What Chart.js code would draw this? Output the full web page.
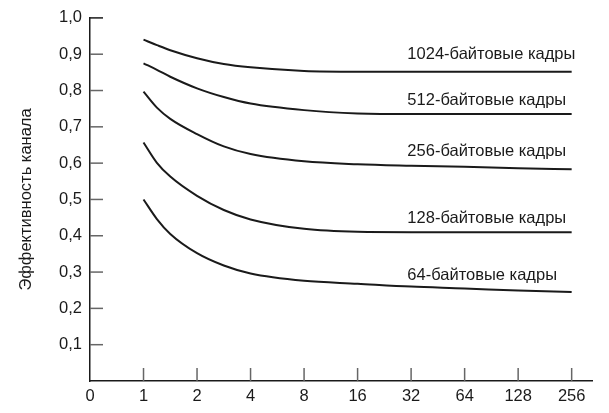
<!DOCTYPE html>
<html>
<head>
<meta charset="utf-8">
<script src="https://cdn.jsdelivr.net/npm/chart.js@4.4.1/dist/chart.umd.min.js"></script>
<style>
  html, body { margin: 0; padding: 0; background: #fff; }
  #wrap { width: 609px; height: 413px; }
</style>
</head>
<body>
<div id="wrap"><canvas id="chart"></canvas></div>
<script>
// ── Data ─────────────────────────────────────────────
const X_LABELS = ['0', '1', '2', '4', '8', '16', '32', '64', '128', '256'];
const TICK_POS = [1, 2, 3, 4, 5, 6, 7, 8, 9];                        // tick index of 1..256
const X_POS = [1, 1.25, 1.5, 2, 2.5, 3, 4, 5, 6, 7, 8, 9];            // where the curves were read
const Y_TICKS = [0.1, 0.2, 0.3, 0.4, 0.5, 0.6, 0.7, 0.8, 0.9, 1.0];

const EFF_1024 = [0.940, 0.925, 0.911, 0.889, 0.873, 0.864, 0.854, 0.852, 0.852, 0.852, 0.852, 0.852];
const EFF_512  = [0.875, 0.857, 0.838, 0.806, 0.782, 0.764, 0.746, 0.737, 0.735, 0.735, 0.735, 0.735];
const EFF_256  = [0.797, 0.753, 0.722, 0.680, 0.646, 0.625, 0.605, 0.597, 0.593, 0.590, 0.586, 0.583];
const EFF_128  = [0.657, 0.601, 0.563, 0.510, 0.471, 0.445, 0.419, 0.411, 0.410, 0.410, 0.410, 0.410];
const EFF_64   = [0.500, 0.446, 0.405, 0.352, 0.318, 0.296, 0.276, 0.268, 0.260, 0.255, 0.249, 0.245];

const SERIES_NAMES = ['1024-байтовые кадры', '512-байтовые кадры', '256-байтовые кадры',
                      '128-байтовые кадры', '64-байтовые кадры'];
const LABEL_X = 5.93;
const LABEL_Y = [0.898, 0.773, 0.633, 0.449, 0.290];

const FONT = { family: 'Liberation Sans, Arial, sans-serif', size: 16.5 };
const INK = '#1a1a1a';

// inward tick marks + curve labels
const decorPlugin = {
  id: 'decor',
  afterDraw(chart) {
    const { ctx, scales } = chart;
    const x = scales.x, y = scales.y;
    ctx.save();
    ctx.lineWidth = 1.5;
    Y_TICKS.forEach(v => {
      const py = y.getPixelForValue(v);
      ctx.strokeStyle = v === 1.0 ? INK : '#666';
      ctx.beginPath();
      ctx.moveTo(x.left, py);
      ctx.lineTo(x.left + 13, py);
      ctx.stroke();
    });
    ctx.strokeStyle = '#666';
    TICK_POS.forEach(v => {
      const px = x.getPixelForValue(v);
      ctx.beginPath();
      ctx.moveTo(px, y.bottom);
      ctx.lineTo(px, y.bottom - 13);
      ctx.stroke();
    });
    ctx.fillStyle = INK;
    ctx.font = `${FONT.size}px ${FONT.family}`;
    ctx.textBaseline = 'middle';
    ctx.textAlign = 'left';
    SERIES_NAMES.forEach((name, i) => {
      ctx.fillText(name, x.getPixelForValue(LABEL_X), y.getPixelForValue(LABEL_Y[i]));
    });
    ctx.restore();
  }
};

window.addEventListener('DOMContentLoaded', () => {
  const series = [EFF_1024, EFF_512, EFF_256, EFF_128, EFF_64];
  new Chart(document.getElementById('chart'), {
    type: 'line',
    plugins: [decorPlugin],
    data: {
      datasets: series.map((vals, i) => ({
        label: SERIES_NAMES[i],
        data: vals.map((v, j) => ({ x: X_POS[j], y: v })),
        borderColor: INK,
        borderWidth: 2,
        pointRadius: 0,
        cubicInterpolationMode: 'monotone',
        fill: false,
      }))
    },
    options: {
      responsive: true,
      maintainAspectRatio: false,
      animation: false,
      layout: { padding: { top: 16, right: 17, left: 0, bottom: 0 } },
      plugins: { legend: { display: false }, tooltip: { enabled: false } },
      scales: {
        x: {
          type: 'linear',
          min: 0, max: 9.38,
          afterBuildTicks: s => { s.ticks = X_LABELS.map((_, i) => ({ value: i })); },
          afterFit: s => { s.height = 32; },
          grid: { display: false, drawTicks: false },
          border: { color: INK, width: 1.5 },
          ticks: {
            font: FONT, color: INK, padding: 6, maxRotation: 0,
            callback: v => X_LABELS[v]
          }
        },
        y: {
          min: 0, max: 1.0,
          afterBuildTicks: s => { s.ticks = Y_TICKS.map(v => ({ value: v })); },
          afterFit: s => { s.width = 90; },
          grid: { display: false, drawTicks: false },
          border: { color: INK, width: 1.5 },
          ticks: {
            font: FONT, color: INK, padding: 8,
            callback: v => v.toFixed(1).replace('.', ',')
          },
          title: {
            display: true,
            text: 'Эффективность канала',
            font: FONT, color: INK,
            padding: { top: 17, bottom: 0 }
          }
        }
      }
    }
  });
});
</script>
</body>
</html>
